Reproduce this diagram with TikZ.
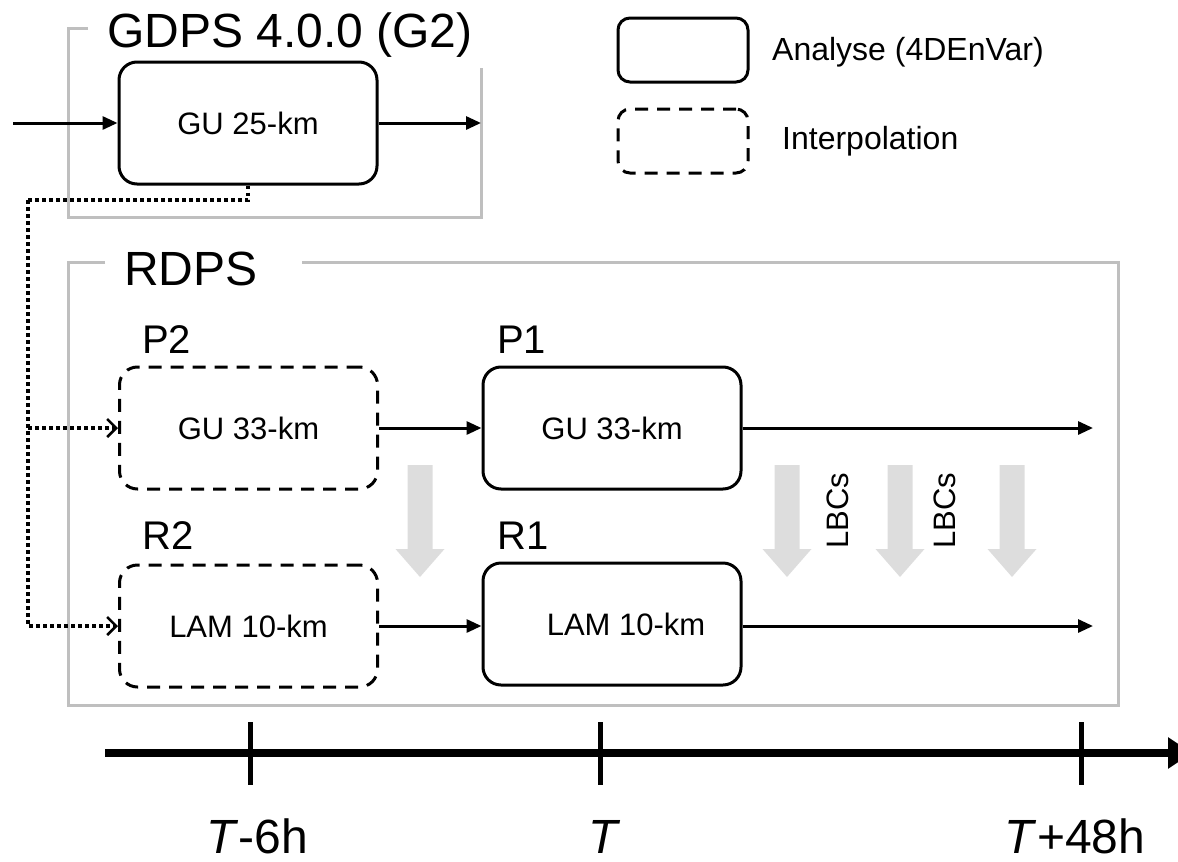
\documentclass[tikz,border=0pt]{standalone}
\usepackage{fontspec}
\setmainfont{Liberation Sans}
\usetikzlibrary{arrows.meta}
\definecolor{framegray}{RGB}{191,191,191}
\definecolor{lbcgray}{RGB}{221,221,221}
\tikzset{
  anbox/.style={draw, line width=3pt, rounded corners=18pt, minimum width=258pt, minimum height=122pt, inner sep=0pt, font=\fontsize{31}{37}\selectfont},
  ipbox/.style={anbox, dash pattern=on 13pt off 9pt},
  legsolid/.style={draw, line width=3pt, rounded corners=12pt, minimum width=130pt, minimum height=64pt, inner sep=0pt},
  legdash/.style={legsolid, dash pattern=on 13pt off 9pt},
  flow/.style={line width=3pt, -{Triangle[length=15pt,width=13pt]}},
  dotflow/.style={line width=3.5pt, dash pattern=on 3.5pt off 3.5pt, -{Straight Barb[length=9pt,width=18pt,line width=2.5pt]}},
  dotline/.style={line width=3.5pt, dash pattern=on 3.5pt off 3.5pt},
  frame/.style={draw=framegray, line width=3pt},
  bigtitle/.style={anchor=base west, inner sep=0pt, font=\fontsize{48}{56}\selectfont},
  lab/.style={anchor=base west, inner sep=0pt, font=\fontsize{40}{46}\selectfont},
  legtext/.style={anchor=west, inner sep=0pt, font=\fontsize{32}{38}\selectfont},
  lbc/.style={rotate=90, inner sep=0pt, font=\fontsize{31}{37}\selectfont},
  tlab/.style={anchor=base, inner sep=0pt, font=\fontsize{48}{56}\selectfont},
  lbcarrow/.style={fill=lbcgray, draw=none},
  tick/.style={line width=5pt},
}
\begin{document}
\begin{tikzpicture}[x=1pt,y=-1pt]
\useasboundingbox (0,0) rectangle (1178,862);

% GDPS frame
\draw[frame] (88,28) -- (68,28) -- (68,217) -- (481,217) -- (481,68);
\node[bigtitle] (gtitle) at (107,47) {GDPS 4.0.0 (G2)};

% RDPS frame
\draw[frame] (105,262) -- (68,262) -- (68,705) -- (1118,705) -- (1118,262) -- (302,262);
\node[bigtitle] (rtitle) at (124,285) {RDPS};

% legend
\node[legsolid] (leg1) at (683,50) {};
\node[legtext] (leg1t) at (772,52) {Analyse (4DEnVar)};
\node[legdash] (leg2) at (683,141) {};
\node[legtext] (leg2t) at (782,141) {Interpolation};

% boxes
\node[anbox] (gu) at (248,123) {GU 25-km};
\node[ipbox] (p2) at (248.5,428) {GU 33-km};
\node[anbox] (p1) at (612,428) {GU 33-km};
\node[ipbox] (r2) at (248.5,626) {LAM 10-km};
\node[anbox] (r1) at (612,624) {\hspace*{28pt}LAM 10-km};

\node[lab] (p2l) at (142,353) {P2};
\node[lab] (p1l) at (497,353) {P1};
\node[lab] (r2l) at (142,549) {R2};
\node[lab] (r1l) at (497,549) {R1};

% coordinates
\coordinate (gin) at (13,123);
\coordinate (gout) at (481,123);
\coordinate (p1out) at (1093,428);
\coordinate (r1out) at (1093,626);
\coordinate (d1) at (248,200);
\coordinate (d2) at (28,200);

% flows
\draw[flow] (gin) -- (gu.west);
\draw[flow] (gu.east) -- (gout);
\draw[flow] (p2.east) -- (p1.west);
\draw[flow] (p1.east) -- (p1out);
\draw[flow] (r2.east |- 0,626) -- (r1.west |- 0,626);
\draw[flow] (r1.east |- 0,626) -- (r1out);

% dotted connector
\draw[dotline] (gu.south) -- (d1) -- (d2);
\draw[dotflow] (d2) |- (r2.west);
\draw[dotflow] (d2 |- p2.west) -- (p2.west);

% LBC arrows
\foreach \cx in {420,787,900,1012}{
  \fill[lbcarrow] (\cx-12.5,465) -- (\cx+12.5,465) -- (\cx+12.5,549) -- (\cx+24.5,549)
     -- (\cx,577) -- (\cx-24.5,549) -- (\cx-12.5,549) -- cycle;
}
\node[lbc] (lbc1) at (838,511) {LBCs};
\node[lbc] (lbc2) at (945,511) {LBCs};

% timeline
\coordinate (ts) at (105,753);
\coordinate (te) at (1192,753);
\draw[line width=8pt, -{Triangle[length=24pt,width=30pt]}] (ts) -- (te);
\coordinate (t1a) at (250,722); \coordinate (t1b) at (250,785);
\coordinate (t2a) at (600,722); \coordinate (t2b) at (600,785);
\coordinate (t3a) at (1081,722); \coordinate (t3b) at (1081,785);
\draw[tick] (t1a) -- (t1b);
\draw[tick] (t2a) -- (t2b);
\draw[tick] (t3a) -- (t3b);
\node[tlab] (tl1) at (257,853) {\textit{T}-6h};
\node[tlab] (tl2) at (605,853) {\textit{T}};
\node[tlab] (tl3) at (1075,853) {\textit{T}+48h};
\end{tikzpicture}
\end{document}
